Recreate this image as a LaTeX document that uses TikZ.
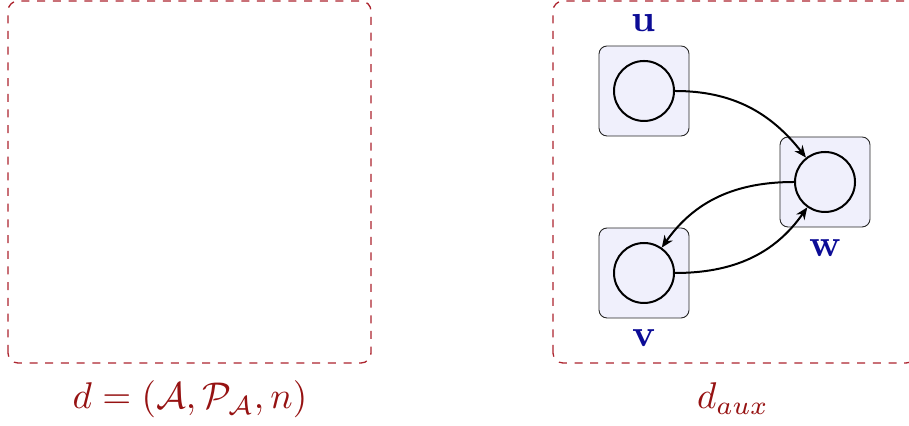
\documentclass[tikz,border=0pt]{standalone}
\usepackage{amsmath}
\usetikzlibrary{arrows.meta}
\definecolor{dred}{RGB}{150,18,18}
\definecolor{dashred}{RGB}{172,36,46}
\definecolor{nblue}{RGB}{12,12,150}
\definecolor{lav}{RGB}{240,240,252}
\tikzset{
  frame/.style={draw=dashred, line width=0.65pt, dash pattern=on 4pt off 3.85pt, rounded corners=5pt},
  cell/.style={draw=black!85, line width=0.45pt, fill=lav, rounded corners=4pt, minimum size=45pt, inner sep=0pt},
  vert/.style={circle, draw=black, line width=1pt, fill=lav, minimum size=30pt, inner sep=0pt},
  vlabel/.style={text=nblue, font=\bfseries, inner sep=0pt, scale=1.9},
  caption/.style={text=dred, inner sep=0pt, anchor=base, scale=1.86},
  edge/.style={line width=1pt, -{Stealth[length=6pt,width=5pt]}}
}
\begin{document}
\begin{tikzpicture}[x=0.5pt,y=0.5pt]
\useasboundingbox (0,0) rectangle (909,426);
\draw[frame] (8,63) rectangle (371,425);
\draw[frame] (553,63) rectangle (916,425);
\node[cell] (ub) at (644,335) {};
\node[cell] (wb) at (825,244) {};
\node[cell] (vb) at (644,153) {};
\node[vert] (u) at (644,335) {};
\node[vert] (w) at (825,244) {};
\node[vert] (v) at (644,153) {};
\node[vlabel] (ul) at (644,403) {u};
\node[vlabel] (wl) at (825,178) {w};
\node[vlabel] (vl) at (644,88) {v};
\node[caption] (c1) at (190,17) {$d=(\mathcal{A},\mathcal{P}_{\mathcal{A}},n)$};
\node[caption] (c2) at (733,17) {$d_{aux}$};
\draw[edge] (u.east) to[out=0,in=128] (w.128);
\draw[edge] (w.west) to[out=180,in=55] (v.55);
\draw[edge] (v.east) to[out=0,in=235] (w.235);
\end{tikzpicture}
\end{document}
